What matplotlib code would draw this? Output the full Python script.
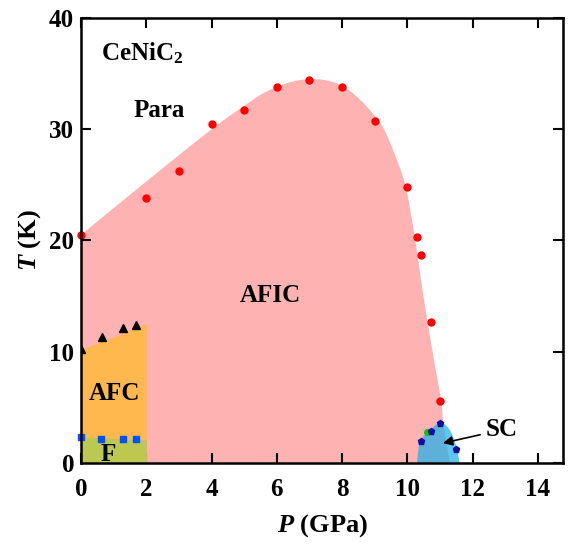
import numpy as np
import matplotlib.pyplot as plt

plt.rcParams['font.family'] = 'Liberation Serif'
plt.rcParams['font.weight'] = 'bold'
plt.rcParams['mathtext.fontset'] = 'custom'
plt.rcParams['mathtext.rm'] = 'Liberation Serif:bold'
plt.rcParams['mathtext.bf'] = 'Liberation Serif:bold'
plt.rcParams['mathtext.it'] = 'Liberation Serif:bold:italic'

# measured transition points
p_afic = [0, 2.0, 3.0, 4.0, 5.0, 6.0, 7.0, 8.0, 9.0, 10.0, 10.31, 10.41, 10.72, 11.0]
t_afic = [20.5, 23.8, 26.2, 30.5, 31.7, 33.8, 34.4, 33.8, 30.7, 24.8, 20.3, 18.7, 12.65, 5.6]

p_afc = [0, 0.63, 1.27, 1.68]
t_afc = [10.2, 11.3, 12.1, 12.4]

p_f = [0, 0.61, 1.27, 1.68]
t_f = [2.3, 2.13, 2.13, 2.13]

p_sc = [10.41, 10.72, 11.0, 11.5]
t_sc = [2.0, 2.88, 3.57, 1.26]
p_sc2 = [10.59]
t_sc2 = [2.76]

# phase region outlines (hand-traced)
para_edge_p = [0, 2, 4, 5, 5.5, 6, 6.5, 7, 7.5, 8, 8.5, 9, 9.3, 9.67, 9.95, 10.21,
               10.51, 10.8, 11.03, 11.1, 11.24, 11.3]
para_edge_t = [20.5, 25.3, 30.0, 32.1, 33.1, 33.8, 34.3, 34.5, 34.4, 33.9, 32.8, 31.2,
               29.9, 27.3, 24.8, 20.6, 14.65, 9.5, 5.67, 3.6, 1.0, 0]
afc_edge_p = [0, 0.5, 1.0, 1.5, 2.0]
afc_edge_t = [10.2, 10.75, 11.3, 11.9, 12.55]
f_edge_p = [0, 0.5, 1.0, 1.5, 2.0]
f_edge_t = [2.3, 2.25, 2.2, 2.12, 2.07]
sc_edge_p = [10.3, 10.33, 10.4, 10.55, 10.7, 10.85, 11.0, 11.15, 11.3, 11.42, 11.52, 11.6]
sc_edge_t = [0, 1.0, 2.0, 2.55, 2.95, 3.35, 3.57, 3.45, 2.95, 2.2, 1.25, 0]


def smooth(xs, ys, n=12):
    # catmull-rom through the traced points
    pts = np.column_stack([xs, ys]).astype(float)
    pts = np.vstack([pts[0], pts, pts[-1]])
    out = []
    for i in range(1, len(pts) - 2):
        p0, p1, p2, p3 = pts[i - 1], pts[i], pts[i + 1], pts[i + 2]
        for t in np.linspace(0, 1, n, endpoint=False):
            out.append(0.5 * (2 * p1 + (-p0 + p2) * t
                              + (2 * p0 - 5 * p1 + 4 * p2 - p3) * t ** 2
                              + (-p0 + 3 * p1 - 3 * p2 + p3) * t ** 3))
    out.append(pts[-2])
    out = np.array(out)
    return out[:, 0], out[:, 1]


fig = plt.figure(figsize=(5.71, 5.47), dpi=100)
ax = fig.add_axes([0.142, 0.154, 0.844, 0.813])

px, pt = smooth(para_edge_p, para_edge_t)
ax.fill(np.r_[px, 0], np.r_[pt, 0], color='#ffb2b2', lw=0, zorder=1)
ax.fill_between(afc_edge_p, afc_edge_t, 0, color='#ffb84d', lw=0, zorder=2)
ax.fill_between(f_edge_p, f_edge_t, 0, color='#bcc850', lw=0, zorder=3)
sx, st = smooth(sc_edge_p, sc_edge_t)
ax.fill(sx, st, color='#18b0ea', alpha=0.7, lw=0, zorder=3)

ax.plot(p_afic, t_afic, 'o', color='red', ms=5, clip_on=False, zorder=5)
ax.plot(p_afc, t_afc, '^', color='black', ms=6, zorder=5)
ax.plot(p_f, t_f, 's', color='#0050ff', ms=5, clip_on=False, zorder=5)
ax.plot(p_sc, t_sc, 'p', color='#1010a0', ms=5, zorder=5)
ax.plot(p_sc2, t_sc2, 'o', color='#00cc00', ms=4, zorder=4)

ax.text(0.61, 36.15, r'CeNiC$_2$', fontsize=18, fontweight='bold')
ax.text(1.6, 31.1, 'Para', fontsize=18, fontweight='bold')
ax.text(4.87, 14.5, 'AFIC', fontsize=18, fontweight='bold')
ax.text(0.25, 5.67, 'AFC', fontsize=18, fontweight='bold')
ax.text(0.84, 0.2, 'F', fontsize=18, fontweight='bold', ha='center')
ax.annotate('SC', xy=(11.09, 1.77), xytext=(12.4, 2.37), fontsize=18, fontweight='bold',
            va='baseline',
            arrowprops=dict(arrowstyle='-|>', color='black', lw=1.2, mutation_scale=14,
                            shrinkA=2, shrinkB=0))

ax.set_xlim(0, 14.77)
ax.set_ylim(0, 40)
ax.set_xticks(np.arange(0, 15, 2))
ax.set_yticks([0, 10, 20, 30, 40])
ax.tick_params(direction='in', top=True, right=True, length=7, width=1.5,
               labelsize=18)
ax.tick_params(axis='x', pad=11)
ax.tick_params(axis='y', pad=5)
for s in ax.spines.values():
    s.set_linewidth(1.8)
    s.set_zorder(6)

ax.set_xlabel(r'$P$ (GPa)', fontsize=19, fontweight='bold', labelpad=8)
ax.set_ylabel(r'$T$ (K)', fontsize=19, fontweight='bold', labelpad=4)

plt.savefig('out.png', dpi=100)
